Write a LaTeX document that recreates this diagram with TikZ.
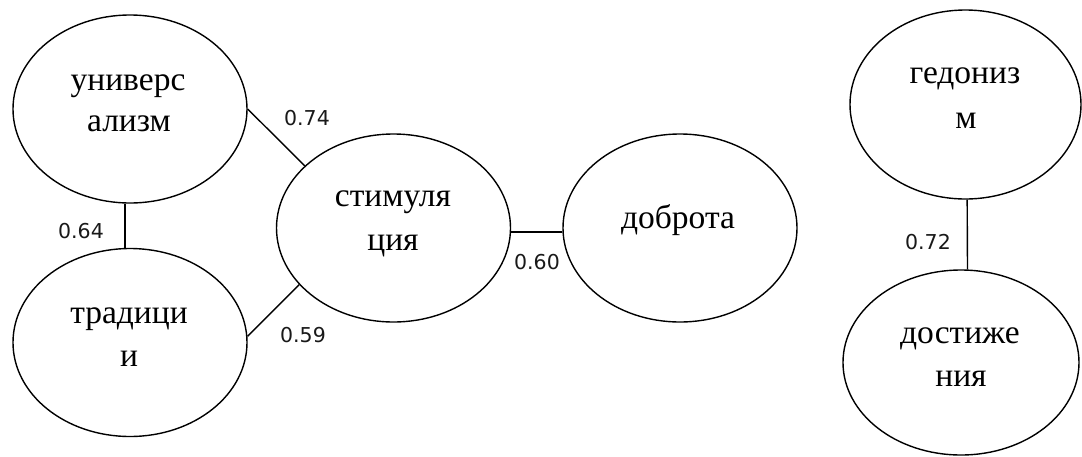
\documentclass[tikz,border=0pt]{standalone}
\usepackage{fontspec}
\setmainfont{Liberation Serif}
\newfontfamily\numfont{DejaVu Sans}
\usetikzlibrary{shapes.geometric}
\tikzset{
  val/.style={draw=black, line width=1.4pt, ellipse, inner sep=0pt, minimum width=234pt, minimum height=188pt},
  word/.style={inner sep=0pt, anchor=base, font=\fontsize{33.5}{33.5}\selectfont, text=black},
  num/.style={inner sep=0pt, anchor=center, font=\numfont\fontsize{20.5}{20.5}\selectfont, text=black!90},
  link/.style={draw=black, line width=1.4pt}
}
\begin{document}
\begin{tikzpicture}[x=1pt,y=-1pt]
\useasboundingbox[fill=white] (0,0) rectangle (1082,456);
% ellipses
\node[val] (u) at (130,109) {};
\node[val] (t) at (130,342.5) {};
\node[val] (s) at (393.5,228) {};
\node[val] (d) at (680,228) {};
\node[val, minimum width=231pt, minimum height=189pt] (g) at (965.5,104.5) {};
\node[val, minimum width=236pt, minimum height=185pt] (a) at (961,362.5) {};
% texts
\node[word] (u1) at (128,90) {универс};
\node[word] (u2) at (129,131) {ализм};
\node[word] (s1) at (393,206) {стимуля};
\node[word] (s2) at (393,250) {ция};
\node[word] (t1) at (129,323) {традици};
\node[word] (t2) at (129,366) {и};
\node[word] (d1) at (678,228) {доброта};
\node[word] (g1) at (965,83) {гедониз};
\node[word] (g2) at (966,128) {м};
\node[word] (a1) at (960,343) {достиже};
\node[word] (a2) at (961,386) {ния};
% connectors
\draw[link] (u.east) -- (s.145);
\draw[link] (t.3) -- (s.211);
\draw[link] (u.267) -- (t.93);
\draw[link] (s.-2) -- (d.182);
\draw[link] (g.271) -- (a.86);
% values
\node[num] (n74) at (307,118) {0.74};
\node[num] (n64) at (81,231) {0.64};
\node[num] (n59) at (303,335) {0.59};
\node[num] (n60) at (537,262) {0.60};
\node[num] (n72) at (928,242) {0.72};
\end{tikzpicture}
\end{document}
